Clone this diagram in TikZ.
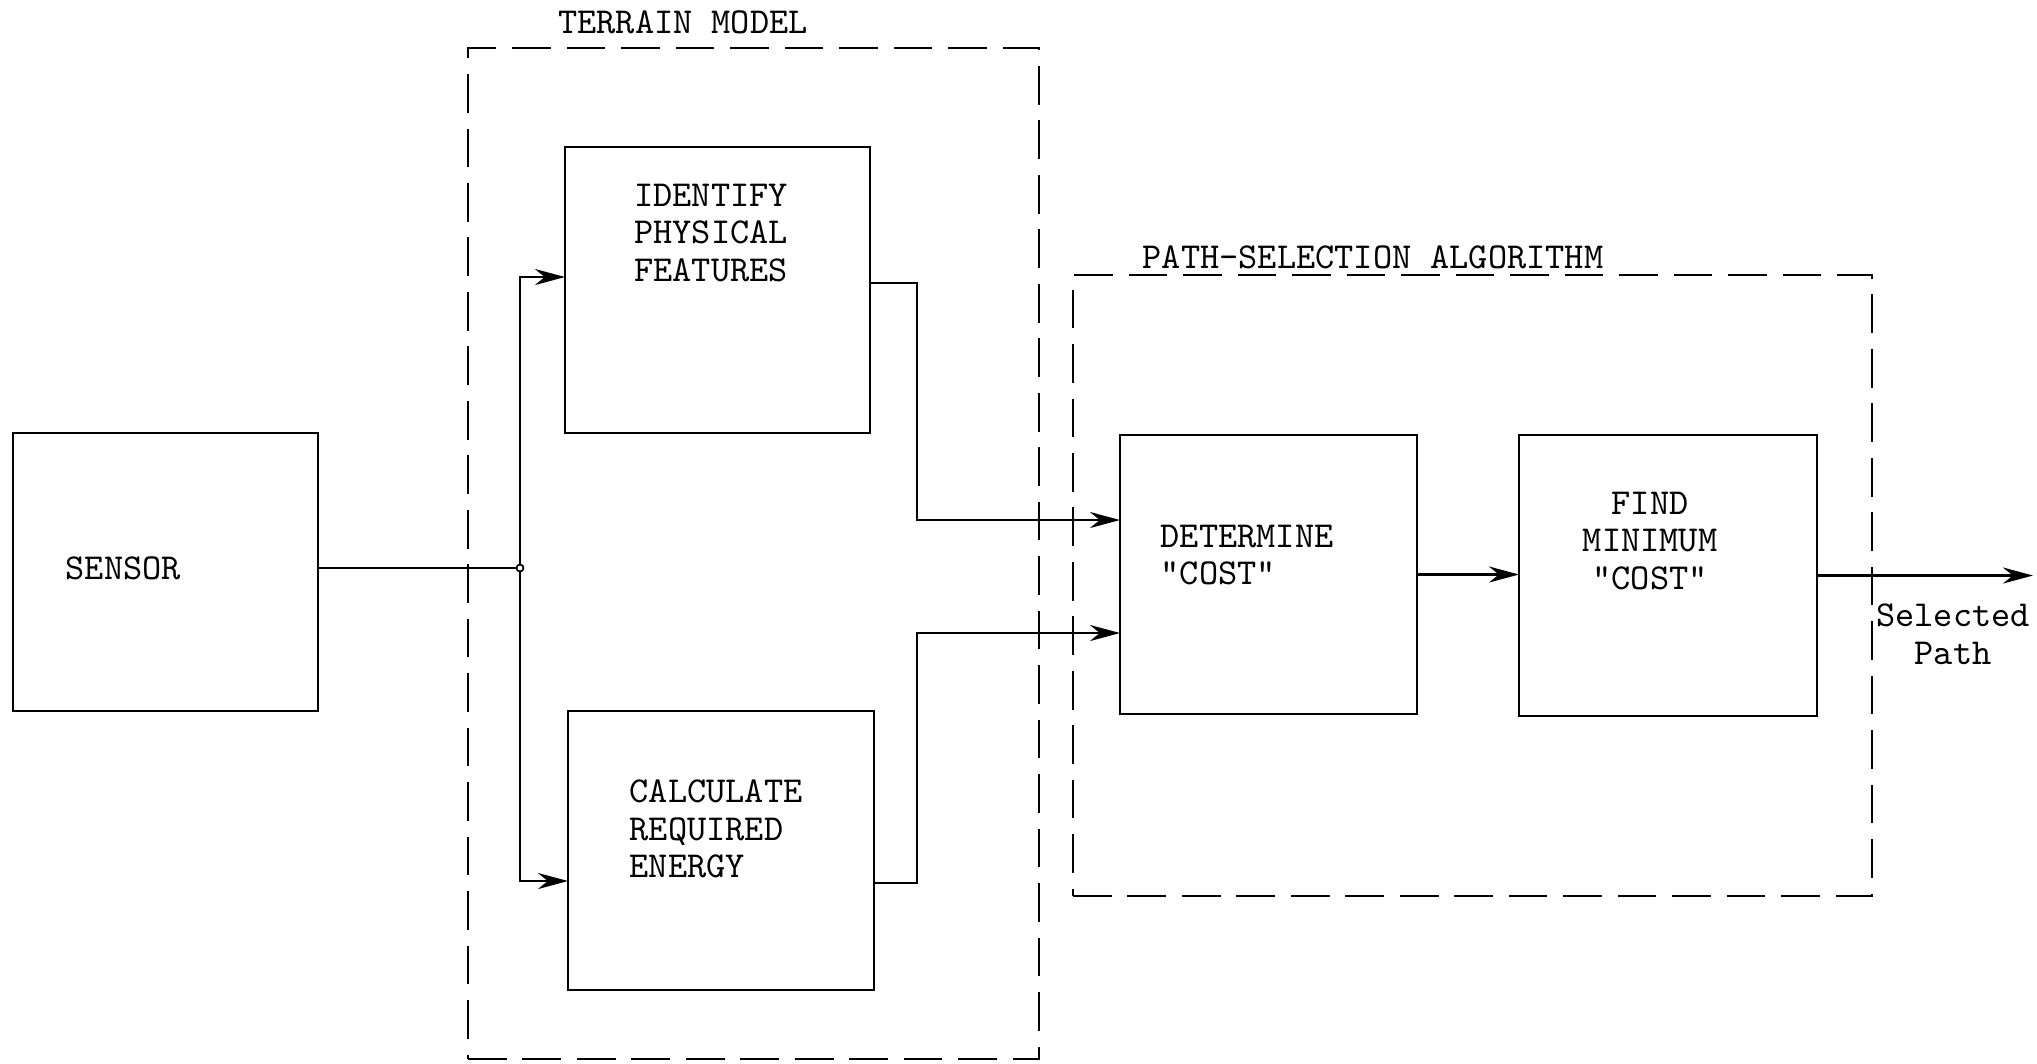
\documentclass[tikz,border=0pt]{standalone}
\usepackage{fontspec}
\usetikzlibrary{arrows.meta}
\begin{document}
\begin{tikzpicture}[x=0.1mm,y=-0.1mm,
  box/.style={draw, line width=0.8pt, inner sep=0pt, outer sep=0pt, anchor=north west},
  group/.style={draw, dash pattern=on 11pt off 4.5pt, line width=0.8pt, inner sep=0pt, outer sep=0pt, anchor=north west},
  lbl/.style={font=\ttfamily\fontsize{10.4pt}{10.7pt}\selectfont, inner sep=0pt, align=center},
  conn/.style={line width=0.8pt},
  arr/.style={line width=0.8pt, -{Stealth[length=3mm,width=1.6mm]}}]
\useasboundingbox (0,0) rectangle (2037,1063);

% groups
\node[group, minimum width=57.1mm, minimum height=101.1mm] (terrain) at (468,48) {};
\node[group, minimum width=79.9mm, minimum height=62.1mm] (pathsel) at (1073,275) {};
\node[lbl] (terrainlbl) at (683,22) {TERRAIN MODEL};
\node[lbl] (pathsellbl) at (1373,257) {PATH-SELECTION ALGORITHM};

% boxes
\node[box, minimum width=30.5mm, minimum height=27.8mm] (sensor) at (13,433) {};
\node[box, minimum width=30.5mm, minimum height=28.6mm] (identify) at (565,147) {};
\node[box, minimum width=30.6mm, minimum height=27.9mm] (calc) at (568,711) {};
\node[box, minimum width=29.7mm, minimum height=27.9mm] (determine) at (1120,435) {};
\node[box, minimum width=29.8mm, minimum height=28.1mm] (find) at (1519,435) {};

% texts
\node[lbl, anchor=west] (sensortxt) at (65,568) {SENSOR};
\node[lbl] (identifytxt) at (711,233) {IDENTIFY\\PHYSICAL\\FEATURES};
\node[lbl, anchor=west, align=left] (calctxt) at (629,829) {CALCULATE\\REQUIRED\\ENERGY};
\node[lbl, anchor=west, align=left] (determinetxt) at (1160,555) {DETERMINE\\"COST"};
\node[lbl] (findtxt) at (1650,541) {FIND\\MINIMUM\\"COST"};
\node[lbl] (outtxt) at (1953,634) {Selected\\Path};

% helper coordinates
\coordinate (j) at (520,568);
\coordinate (yi) at (0,277);
\coordinate (yc) at (0,881);
\coordinate (bx) at (917,0);
\coordinate (yo1) at (0,283);
\coordinate (yd1) at (0,520);
\coordinate (yo2) at (0,883);
\coordinate (yd2) at (0,633);
\coordinate (out) at (2033,575.5);

% connectors
\draw[conn] (sensor.east |- j) -- (j);
\draw[arr] (j) |- (identify.west |- yi);
\draw[arr] (j) |- (calc.west |- yc);
\node[circle, draw, fill=white, line width=0.5pt, inner sep=0pt, minimum size=0.7mm] (jdot) at (j) {};
\draw[arr] (identify.east |- yo1) -| (bx |- yd1) -- (determine.west |- yd1);
\draw[arr] (calc.east |- yo2) -| (bx |- yd2) -- (determine.west |- yd2);
\draw[arr] (determine.east) -- (find.west |- determine.east);
\draw[arr] (find.east) -- (out);
\end{tikzpicture}
\end{document}
